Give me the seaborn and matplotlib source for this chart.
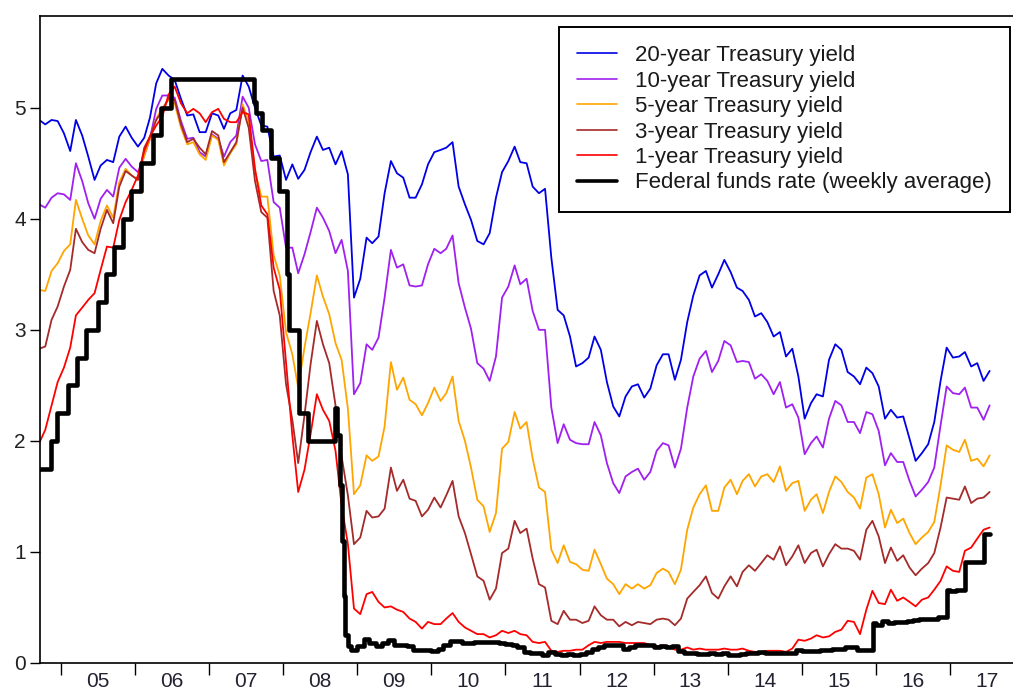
import numpy as np
import pandas as pd
import matplotlib
matplotlib.use("Agg")
import matplotlib.pyplot as plt
import matplotlib.dates as mdates
from matplotlib.lines import Line2D
import seaborn as sns

# ---------------- data (monthly averages, Sep 2004 .. Jul 2017) ----------------
start_month = "2004-09-01"

y20 = [4.89, 4.85, 4.89, 4.88,
       4.77, 4.61, 4.89, 4.75, 4.56, 4.35, 4.48, 4.53, 4.51, 4.74, 4.83, 4.73,
       4.65, 4.73, 4.91, 5.22, 5.35, 5.29, 5.25, 5.08, 4.93, 4.94, 4.78, 4.78,
       4.95, 4.93, 4.81, 4.95, 4.98, 5.29, 5.19, 5.00, 4.84, 4.83, 4.56, 4.57,
       4.35, 4.49, 4.36, 4.44, 4.60, 4.74, 4.62, 4.64, 4.49, 4.61, 4.40, 3.29,
       3.46, 3.83, 3.78, 3.84, 4.23, 4.52, 4.41, 4.37, 4.19, 4.19, 4.31, 4.49,
       4.60, 4.62, 4.64, 4.69, 4.29, 4.13, 3.99, 3.80, 3.77, 3.87, 4.19, 4.42,
       4.52, 4.65, 4.51, 4.50, 4.29, 4.23, 4.27, 3.65, 3.18, 3.13, 2.94, 2.67,
       2.70, 2.75, 2.94, 2.82, 2.53, 2.31, 2.22, 2.40, 2.49, 2.51, 2.39, 2.47,
       2.68, 2.78, 2.78, 2.55, 2.73, 3.07, 3.31, 3.49, 3.53, 3.38, 3.50, 3.63,
       3.52, 3.38, 3.35, 3.27, 3.12, 3.15, 3.07, 2.94, 2.98, 2.76, 2.83, 2.58,
       2.20, 2.34, 2.42, 2.40, 2.73, 2.87, 2.82, 2.62, 2.58, 2.51, 2.66, 2.61,
       2.49, 2.20, 2.28, 2.21, 2.22, 2.02, 1.82, 1.89, 1.97, 2.17, 2.54, 2.84,
       2.75, 2.76, 2.80, 2.67, 2.70, 2.54, 2.63]

y10 = [4.13, 4.10, 4.19, 4.23,
       4.22, 4.17, 4.50, 4.34, 4.14, 4.00, 4.18, 4.26, 4.20, 4.46, 4.54, 4.47,
       4.42, 4.57, 4.72, 4.99, 5.11, 5.11, 5.09, 4.88, 4.72, 4.73, 4.60, 4.56,
       4.76, 4.72, 4.56, 4.69, 4.75, 5.10, 5.00, 4.67, 4.52, 4.53, 4.15, 4.10,
       3.74, 3.74, 3.51, 3.68, 3.88, 4.10, 4.01, 3.89, 3.69, 3.81, 3.53, 2.42,
       2.52, 2.87, 2.82, 2.93, 3.29, 3.72, 3.56, 3.59, 3.40, 3.39, 3.40, 3.59,
       3.73, 3.69, 3.73, 3.85, 3.42, 3.20, 3.01, 2.70, 2.65, 2.54, 2.76, 3.29,
       3.39, 3.58, 3.41, 3.46, 3.17, 3.00, 3.00, 2.30, 1.98, 2.15, 2.01, 1.98,
       1.97, 1.97, 2.17, 2.05, 1.80, 1.62, 1.53, 1.68, 1.72, 1.75, 1.65, 1.72,
       1.91, 1.98, 1.96, 1.76, 1.93, 2.30, 2.58, 2.74, 2.81, 2.62, 2.72, 2.90,
       2.86, 2.71, 2.72, 2.71, 2.56, 2.60, 2.54, 2.42, 2.53, 2.30, 2.33, 2.21,
       1.88, 1.98, 2.04, 1.94, 2.20, 2.36, 2.32, 2.17, 2.17, 2.07, 2.26, 2.24,
       2.09, 1.78, 1.89, 1.81, 1.81, 1.64, 1.50, 1.56, 1.63, 1.76, 2.14, 2.49,
       2.43, 2.42, 2.48, 2.30, 2.30, 2.19, 2.32]

y5 = [3.36, 3.35, 3.53, 3.60,
      3.71, 3.77, 4.17, 4.00, 3.85, 3.77, 3.98, 4.12, 4.01, 4.33, 4.45, 4.39,
      4.35, 4.57, 4.72, 4.90, 5.00, 5.07, 5.04, 4.82, 4.67, 4.69, 4.58, 4.53,
      4.75, 4.71, 4.48, 4.59, 4.67, 5.03, 4.88, 4.43, 4.20, 4.20, 3.67, 3.49,
      2.98, 2.78, 2.48, 2.84, 3.15, 3.49, 3.30, 3.14, 2.88, 2.73, 2.29, 1.52,
      1.60, 1.87, 1.82, 1.86, 2.13, 2.71, 2.46, 2.57, 2.37, 2.33, 2.23, 2.34,
      2.48, 2.36, 2.43, 2.58, 2.18, 2.00, 1.76, 1.47, 1.41, 1.18, 1.35, 1.93,
      1.99, 2.26, 2.11, 2.17, 1.84, 1.58, 1.54, 1.02, 0.90, 1.06, 0.91, 0.89,
      0.84, 0.83, 1.02, 0.89, 0.76, 0.71, 0.62, 0.71, 0.67, 0.71, 0.67, 0.70,
      0.81, 0.85, 0.82, 0.71, 0.84, 1.20, 1.40, 1.52, 1.60, 1.37, 1.37, 1.58,
      1.65, 1.52, 1.64, 1.70, 1.59, 1.68, 1.70, 1.63, 1.77, 1.55, 1.62, 1.64,
      1.37, 1.47, 1.52, 1.35, 1.54, 1.68, 1.63, 1.54, 1.49, 1.39, 1.67, 1.70,
      1.52, 1.22, 1.38, 1.26, 1.30, 1.17, 1.07, 1.13, 1.18, 1.27, 1.60, 1.96,
      1.92, 1.90, 2.01, 1.82, 1.84, 1.77, 1.87]

y3 = [2.83, 2.85, 3.09, 3.21,
      3.39, 3.54, 3.91, 3.79, 3.72, 3.69, 3.91, 4.08, 3.96, 4.29, 4.43, 4.39,
      4.35, 4.64, 4.74, 4.89, 4.97, 5.09, 5.07, 4.85, 4.69, 4.72, 4.64, 4.58,
      4.79, 4.75, 4.51, 4.60, 4.69, 5.00, 4.82, 4.34, 4.06, 4.01, 3.35, 3.13,
      2.51, 2.19, 1.80, 2.23, 2.69, 3.08, 2.87, 2.70, 2.32, 1.86, 1.51, 1.07,
      1.13, 1.37, 1.31, 1.32, 1.39, 1.76, 1.55, 1.65, 1.48, 1.46, 1.32, 1.38,
      1.49, 1.40, 1.51, 1.64, 1.32, 1.17, 0.98, 0.78, 0.74, 0.57, 0.67, 0.99,
      1.03, 1.28, 1.17, 1.21, 0.94, 0.71, 0.68, 0.38, 0.35, 0.47, 0.39, 0.39,
      0.36, 0.38, 0.51, 0.43, 0.39, 0.39, 0.33, 0.37, 0.34, 0.37, 0.36, 0.35,
      0.39, 0.40, 0.39, 0.34, 0.40, 0.58, 0.64, 0.70, 0.78, 0.63, 0.58, 0.69,
      0.78, 0.69, 0.82, 0.88, 0.83, 0.90, 0.97, 0.93, 1.05, 0.88, 0.96, 1.06,
      0.90, 0.99, 1.02, 0.87, 0.98, 1.07, 1.03, 1.03, 1.01, 0.93, 1.20, 1.28,
      1.14, 0.90, 1.04, 0.92, 0.97, 0.86, 0.79, 0.85, 0.90, 0.99, 1.22, 1.49,
      1.48, 1.47, 1.59, 1.44, 1.48, 1.49, 1.54]

y1 = [1.98, 2.10, 2.32, 2.53,
      2.66, 2.84, 3.13, 3.20, 3.27, 3.33, 3.54, 3.75, 3.74, 3.99, 4.15, 4.26,
      4.39, 4.61, 4.74, 4.84, 4.92, 5.12, 5.19, 5.04, 4.95, 4.99, 4.95, 4.87,
      4.96, 4.99, 4.90, 4.87, 4.87, 4.96, 4.94, 4.45, 4.12, 4.04, 3.56, 3.36,
      2.71, 2.05, 1.54, 1.74, 2.06, 2.42, 2.28, 2.18, 1.91, 1.42, 1.07, 0.49,
      0.44, 0.62, 0.64, 0.55, 0.50, 0.51, 0.48, 0.46, 0.40, 0.37, 0.31, 0.37,
      0.35, 0.35, 0.40, 0.45, 0.37, 0.32, 0.29, 0.26, 0.26, 0.23, 0.25, 0.29,
      0.27, 0.29, 0.26, 0.25, 0.19, 0.18, 0.19, 0.11, 0.10, 0.11, 0.11, 0.12,
      0.12, 0.16, 0.19, 0.18, 0.19, 0.19, 0.19, 0.18, 0.18, 0.18, 0.18, 0.16,
      0.15, 0.16, 0.15, 0.12, 0.12, 0.14, 0.12, 0.13, 0.12, 0.12, 0.12, 0.13,
      0.12, 0.12, 0.13, 0.11, 0.10, 0.10, 0.11, 0.11, 0.11, 0.10, 0.13, 0.21,
      0.20, 0.22, 0.25, 0.23, 0.24, 0.28, 0.30, 0.38, 0.37, 0.26, 0.48, 0.65,
      0.54, 0.53, 0.66, 0.56, 0.59, 0.55, 0.51, 0.57, 0.59, 0.66, 0.74, 0.87,
      0.83, 0.82, 1.01, 1.04, 1.12, 1.20, 1.22]

# Federal funds rate: dates where the (weekly-average) level changes
ff_dates = ["2004-09-15", "2004-11-10", "2004-12-14", "2005-02-02", "2005-03-22",
            "2005-05-03", "2005-06-30", "2005-08-09", "2005-09-20", "2005-11-01",
            "2005-12-13", "2006-01-31", "2006-03-28", "2006-05-10", "2006-06-29",
            "2007-08-08", "2007-08-22", "2007-09-18", "2007-10-31", "2007-12-11",
            "2008-01-22", "2008-01-30", "2008-03-18", "2008-04-30", "2008-09-10",
            "2008-09-24", "2008-10-08", "2008-10-18", "2008-10-25", "2008-11-01",
            "2008-11-15", "2008-12-01",
            "2009-01-01", "2009-02-01", "2009-03-01", "2009-04-01", "2009-05-01", "2009-06-01",
            "2009-07-01", "2009-08-01", "2009-09-01", "2009-10-01", "2009-11-01", "2009-12-01",
            "2010-01-01", "2010-02-01", "2010-03-01", "2010-04-01", "2010-05-01", "2010-06-01",
            "2010-07-01", "2010-08-01", "2010-09-01", "2010-10-01", "2010-11-01", "2010-12-01",
            "2011-01-01", "2011-02-01", "2011-03-01", "2011-04-01", "2011-05-01", "2011-06-01",
            "2011-07-01", "2011-08-01", "2011-09-01", "2011-10-01", "2011-11-01", "2011-12-01",
            "2012-01-01", "2012-02-01", "2012-03-01", "2012-04-01", "2012-05-01", "2012-06-01",
            "2012-07-01", "2012-08-01", "2012-09-01", "2012-10-01", "2012-11-01", "2012-12-01",
            "2013-01-01", "2013-02-01", "2013-03-01", "2013-04-01", "2013-05-01", "2013-06-01",
            "2013-07-01", "2013-08-01", "2013-09-01", "2013-10-01", "2013-11-01", "2013-12-01",
            "2014-01-01", "2014-02-01", "2014-03-01", "2014-04-01", "2014-05-01", "2014-06-01",
            "2014-07-01", "2014-08-01", "2014-09-01", "2014-10-01", "2014-11-01", "2014-12-01",
            "2015-01-01", "2015-02-01", "2015-03-01", "2015-04-01", "2015-05-01", "2015-06-01",
            "2015-07-01", "2015-08-01", "2015-09-01", "2015-10-01", "2015-11-01", "2015-12-17",
            "2016-01-01", "2016-02-01", "2016-03-01", "2016-04-01", "2016-05-01", "2016-06-01",
            "2016-07-01", "2016-08-01", "2016-09-01", "2016-10-01", "2016-11-01", "2016-12-15",
            "2017-01-01", "2017-02-01", "2017-03-16", "2017-05-01", "2017-06-15", "2017-07-17"]
ff_vals = [1.75, 2.00, 2.25, 2.50, 2.75,
           3.00, 3.25, 3.50, 3.75, 4.00,
           4.25, 4.50, 4.75, 5.00, 5.26,
           5.05, 4.95, 4.80, 4.55, 4.25,
           3.50, 3.00, 2.25, 2.00, 2.30,
           2.05, 1.60, 1.10, 0.60, 0.25,
           0.15, 0.12,
           0.15, 0.22, 0.18, 0.15, 0.18, 0.21, 0.16, 0.16, 0.15, 0.12, 0.12, 0.12,
           0.11, 0.13, 0.16, 0.20, 0.20, 0.18, 0.18, 0.19, 0.19, 0.19, 0.19, 0.18,
           0.17, 0.16, 0.14, 0.10, 0.09, 0.09, 0.07, 0.10, 0.08, 0.07, 0.08, 0.07,
           0.08, 0.10, 0.13, 0.14, 0.16, 0.16, 0.16, 0.13, 0.14, 0.16, 0.16, 0.16,
           0.14, 0.15, 0.14, 0.15, 0.11, 0.09, 0.09, 0.08, 0.08, 0.09, 0.08, 0.09,
           0.07, 0.07, 0.08, 0.09, 0.09, 0.10, 0.09, 0.09, 0.09, 0.09, 0.09, 0.12,
           0.11, 0.11, 0.11, 0.12, 0.12, 0.13, 0.13, 0.14, 0.14, 0.12, 0.12, 0.36,
           0.34, 0.38, 0.36, 0.37, 0.37, 0.38, 0.39, 0.40, 0.40, 0.40, 0.41, 0.66,
           0.65, 0.66, 0.91, 0.91, 1.16, 1.16]

labels = ["20-year Treasury yield", "10-year Treasury yield", "5-year Treasury yield",
          "3-year Treasury yield", "1-year Treasury yield",
          "Federal funds rate (weekly average)"]
colors = ["#0000E6", "#A020F0", "#FFA500", "#A52A2A", "#FF0000", "#000000"]

# ---------------- plotting ----------------
sns.set_style("ticks")
plt.rcParams["font.family"] = ["Liberation Sans", "DejaVu Sans"]

W, H = 1013, 691
fig = plt.figure(figsize=(W / 100, H / 100), dpi=100)
ax = fig.add_axes([40 / W, (H - 663) / H, (1015 - 40) / W, (663 - 16) / H])

month_dates = pd.date_range(start_month, periods=len(y20), freq="MS") + pd.Timedelta(days=14)
for vals, lab, col in zip([y20, y10, y5, y3, y1], labels[:5], colors[:5]):
    sns.lineplot(x=month_dates, y=vals, color=col, lw=1.3, ax=ax, legend=False)

sns.lineplot(x=pd.to_datetime(ff_dates), y=ff_vals, color="black", lw=3.3,
             drawstyle="steps-post", ax=ax, legend=False, zorder=5)

ax.set_xlim(pd.Timestamp("2004-09-19"), pd.Timestamp("2017-11-17"))
ax.set_ylim(0, 5.826)
ax.set_yticks([0, 1, 2, 3, 4, 5])
ax.set_xlabel("")
ax.set_ylabel("")

ax.xaxis.set_major_locator(mdates.YearLocator())
ax.xaxis.set_major_formatter(plt.NullFormatter())
ax.xaxis.set_minor_locator(mdates.MonthLocator(bymonth=7, bymonthday=1))
ax.xaxis.set_minor_formatter(mdates.DateFormatter("%y"))

ax.tick_params(axis="y", which="major", length=7.2, width=1.0, labelsize=15, pad=3,
               color="black", labelcolor="#222222")
ax.tick_params(axis="x", which="major", length=8.5, width=1.0, color="black")
ax.tick_params(axis="x", which="minor", length=0, labelsize=15, pad=6.5,
               labelcolor="#222233")

for sp in ax.spines.values():
    sp.set_linewidth(1.2)
    sp.set_color("black")

handles = [Line2D([], [], color=c, lw=1.2) for c in colors[:5]]
handles.append(Line2D([], [], color="black", lw=2.6))
leg = ax.legend(handles, labels, loc="upper right", bbox_to_anchor=(0.995, 0.983),
                borderaxespad=0, fontsize=16, frameon=True, fancybox=False,
                framealpha=1, edgecolor="black", handlelength=1.8,
                handletextpad=0.8, labelspacing=0.2, borderpad=0.82)
leg.get_frame().set_linewidth(1.4)
for t in leg.get_texts():
    t.set_color("#1a1a1a")

fig.savefig("out.png", dpi=100)
